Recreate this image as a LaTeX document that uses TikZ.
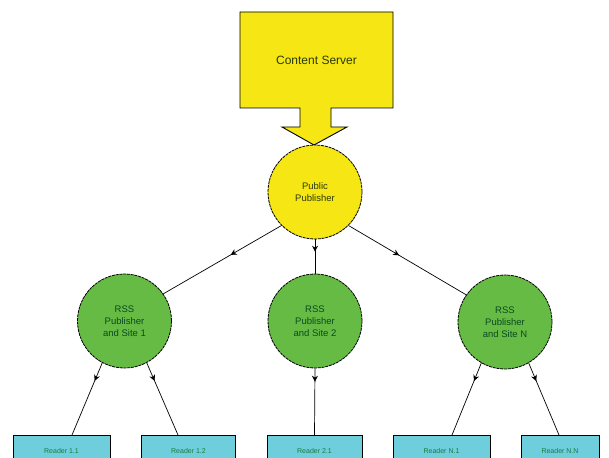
\documentclass[tikz,border=0pt]{standalone}
\usepackage{fontspec}
\setmainfont{Liberation Sans}
\usetikzlibrary{arrows.meta,decorations.markings}
\definecolor{cyel}{HTML}{F5E614}
\definecolor{cgreen}{HTML}{66BB44}
\definecolor{ccyan}{HTML}{6ECEDC}
\definecolor{tgreen}{HTML}{0A4A20}
\definecolor{tolive}{HTML}{2A3A08}
\definecolor{tread}{HTML}{1A7A40}
\tikzset{
  pubcircle/.style={circle, minimum size=94pt, inner sep=0pt, align=center,
    draw=black, line width=0.8pt, dash pattern=on 3pt off 0.8pt, font=\fontsize{9.5}{12}\selectfont},
  rsscircle/.style={pubcircle, fill=cgreen, text=tgreen},
  readerbox/.style={rectangle, draw=black, line width=0.9pt, fill=ccyan, minimum width=96pt,
    minimum height=32pt, anchor=north, text=tread, font=\fontsize{7}{8}\selectfont, inner sep=0pt},
  conn/.style={draw=black, line width=0.7pt},
  midarrow/.style={postaction={decorate, decoration={markings,
    mark=at position #1 with {\arrow{Stealth[length=6pt,width=6pt]}}}}}
}
\begin{document}
\begin{tikzpicture}[x=1pt,y=-1pt]
\clip (0,0) rectangle (609,457);
\fill[white] (0,0) rectangle (609,457);
% content server callout
\draw[fill=cyel, line width=0.9pt] (240,12) -- (393,12) -- (393,108) -- (331,108) -- (331,127)
  -- (347,127) -- (314,145) -- (282,127) -- (300,127) -- (300,108) -- (240,108) -- cycle;
\node[font=\fontsize{12}{14}\selectfont, text=tolive] (cs) at (316.5,60) {Content Server};
% publisher
\node[pubcircle, fill=cyel, text=tolive] (pub) at (315,192) {Public\\Publisher};
% RSS sites
\node[rsscircle] (s1) at (124.5,321) {RSS\\Publisher\\and Site 1};
\node[rsscircle] (s2) at (315,321) {RSS\\Publisher\\and Site 2};
\node[rsscircle] (sN) at (505,322) {RSS\\Publisher\\and Site N};
% readers
\node[readerbox, minimum width=97pt] (r11) at (61.5,435) {Reader 1.1};
\node[readerbox, minimum width=94pt] (r12) at (188.5,435) {Reader 1.2};
\node[readerbox, minimum width=95pt] (r21) at (314.5,435) {Reader 2.1};
\node[readerbox, minimum width=97pt] (rN1) at (441.5,435) {Reader N.1};
\node[readerbox, minimum width=78pt] (rNN) at (560,435) {Reader N.N};
% connectors
\draw[conn, midarrow=0.43] (pub.225) -- (s1.35);
\draw[conn, midarrow=0.36] (pub.south) -- (s2.north);
\draw[conn, midarrow=0.43] (pub.315) -- (sN.145);
\draw[conn, midarrow=0.25] (s1.242) -- (r11.north -| 72,0);
\draw[conn, midarrow=0.25] (s1.298) -- (r12.north -| 178,0);
\draw[conn, midarrow=0.2] (s2.south) -- (r21.north);
\draw[conn, midarrow=0.25] (sN.240) -- (rN1.north -| 452,0);
\draw[conn, midarrow=0.25] (sN.300) -- (rNN.north -| 559,0);
\end{tikzpicture}
\end{document}
